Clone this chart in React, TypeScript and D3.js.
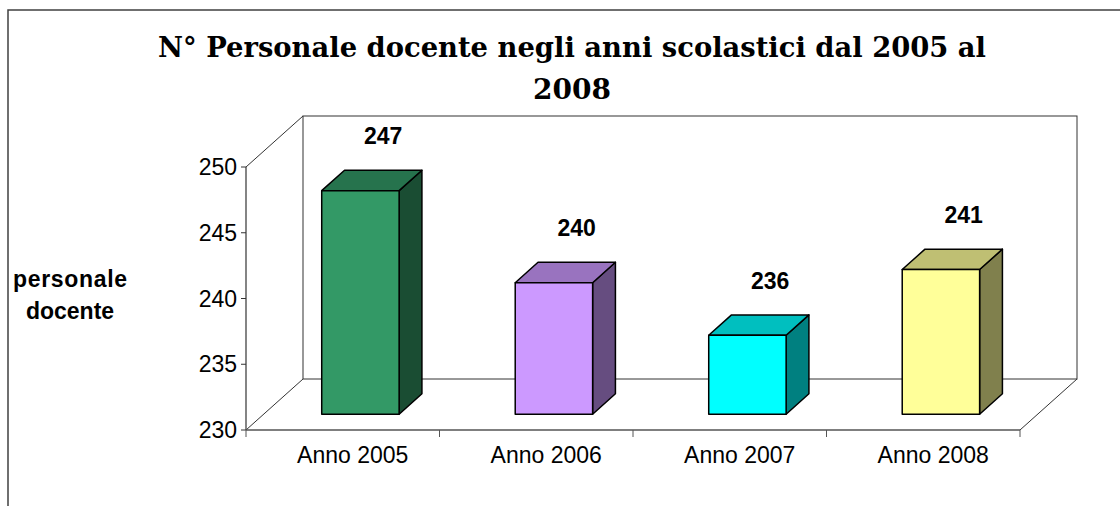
import React from 'react';
import * as d3 from 'd3';

const categories = ['Anno 2005', 'Anno 2006', 'Anno 2007', 'Anno 2008'];
const values = [247, 240, 236, 241];
const yTicks = [230, 235, 240, 245, 250];
const frontColors = ['#339966', '#CC99FF', '#00FFFF', '#FFFF99'];
const titleLines = ['N° Personale docente negli anni scolastici dal 2005 al', '2008'];
const yTitle = ['personale', 'docente'];

const W = 1120;
const H = 506;

// plot frame (front face) and depth offset of the 3d box
const x0 = 246;
const x1 = 1020;
const yTop = 167;
const yBottom = 430;
const depth = { dx: 57, dy: -51 };
// bar occupies this slice of the depth
const barDepth0 = 0.31;
const barDepth1 = 0.71;

export default function App() {
  const y = d3.scaleLinear().domain([230, 250]).range([yBottom, yTop]);
  const x = d3.scaleBand<string>().domain(categories).range([x0, x1]).paddingInner(0.6).paddingOuter(0.3);
  const cats = d3.scaleBand<string>().domain(categories).range([x0, x1]);

  const shade = (c: string, k: number) => {
    const col = d3.rgb(c);
    return d3.rgb(col.r * k, col.g * k, col.b * k).formatHex();
  };

  const bdx0 = depth.dx * barDepth0;
  const bdy0 = depth.dy * barDepth0;
  const bdx = depth.dx * (barDepth1 - barDepth0);
  const bdy = depth.dy * (barDepth1 - barDepth0);

  const axisColor = '#333';

  return (
    <svg width={W} height={H} style={{ position: 'absolute', left: 0, top: 0, background: '#fff' }}>
      {/* outer chart border */}
      <rect x={8} y={10} width={W + 20} height={H + 20} fill="#fff" stroke="#404040" strokeWidth={1.5} />

      {/* title */}
      <g fontFamily="'DejaVu Serif', serif" fontWeight="bold" fontSize={28} fill="#000" textAnchor="middle">
        <text x={572} y={57} textLength={828} lengthAdjust="spacingAndGlyphs">{titleLines[0]}</text>
        <text x={572} y={99}>{titleLines[1]}</text>
      </g>

      {/* back wall */}
      <rect x={x0 + depth.dx} y={yTop + depth.dy} width={x1 - x0} height={yBottom - yTop}
        fill="none" stroke={axisColor} strokeWidth={1} />
      {/* side wall edges */}
      <line x1={x0} y1={yTop} x2={x0 + depth.dx} y2={yTop + depth.dy} stroke={axisColor} />
      <line x1={x0} y1={yBottom} x2={x0 + depth.dx} y2={yBottom + depth.dy} stroke={axisColor} />
      {/* floor right edge */}
      <line x1={x1} y1={yBottom} x2={x1 + depth.dx} y2={yBottom + depth.dy} stroke={axisColor} />

      {/* bars */}
      {categories.map((c, i) => {
        const v = values[i];
        const fx = (x(c) as number) + bdx0;
        const bw = x.bandwidth();
        const fyTop = y(v) + bdy0;
        const fyBot = y(230) + bdy0;
        const front = frontColors[i];
        const topPts = [
          [fx, fyTop], [fx + bdx, fyTop + bdy], [fx + bw + bdx, fyTop + bdy], [fx + bw, fyTop],
        ].map(p => p.join(',')).join(' ');
        const sidePts = [
          [fx + bw, fyTop], [fx + bw + bdx, fyTop + bdy], [fx + bw + bdx, fyBot + bdy], [fx + bw, fyBot],
        ].map(p => p.join(',')).join(' ');
        return (
          <g key={c} stroke="#000" strokeWidth={1.5} strokeLinejoin="round">
            <polygon points={sidePts} fill={shade(front, 0.5)} />
            <polygon points={topPts} fill={shade(front, 0.75)} />
            <rect x={fx} y={fyTop} width={bw} height={fyBot - fyTop} fill={front} />
          </g>
        );
      })}

      {/* data labels */}
      <g fontFamily="'Liberation Sans', Arial, sans-serif" fontWeight="bold" fontSize={23} textAnchor="middle">
        {categories.map((c, i) => (
          <text key={c} x={(x(c) as number) + bdx0 + x.bandwidth() / 2 + bdx} y={y(values[i]) + bdy0 + bdy - 26}>
            {values[i]}
          </text>
        ))}
      </g>

      {/* front axes */}
      <line x1={x0} y1={yTop} x2={x0} y2={yBottom} stroke={axisColor} strokeWidth={1.2} />
      <line x1={x0} y1={yBottom} x2={x1} y2={yBottom} stroke="#555" strokeWidth={1.5} />

      {/* y ticks */}
      <g fontFamily="'Liberation Sans', Arial, sans-serif" fontSize={23} textAnchor="end">
        {yTicks.map(t => (
          <g key={t}>
            <line x1={x0 - 5} x2={x0} y1={y(t)} y2={y(t)} stroke={axisColor} />
            <text x={x0 - 9} y={y(t) + 8}>{t}</text>
          </g>
        ))}
      </g>

      {/* x ticks */}
      {[...categories.map(c => cats(c) as number), x1].map((t, i) => (
        <line key={i} x1={t} x2={t} y1={yBottom} y2={yBottom + 7} stroke="#555" />
      ))}
      <g fontFamily="'Liberation Sans', Arial, sans-serif" fontSize={23} textAnchor="middle">
        {categories.map(c => (
          <text key={c} x={(cats(c) as number) + cats.bandwidth() / 2 + 10} y={463}>{c}</text>
        ))}
      </g>

      {/* y axis title */}
      <g fontFamily="'Liberation Sans', Arial, sans-serif" fontWeight="bold" fontSize={23} textAnchor="middle">
        <text x={70} y={287} textLength={114} lengthAdjust="spacing">{yTitle[0]}</text>
        <text x={70} y={319}>{yTitle[1]}</text>
      </g>
    </svg>
  );
}
